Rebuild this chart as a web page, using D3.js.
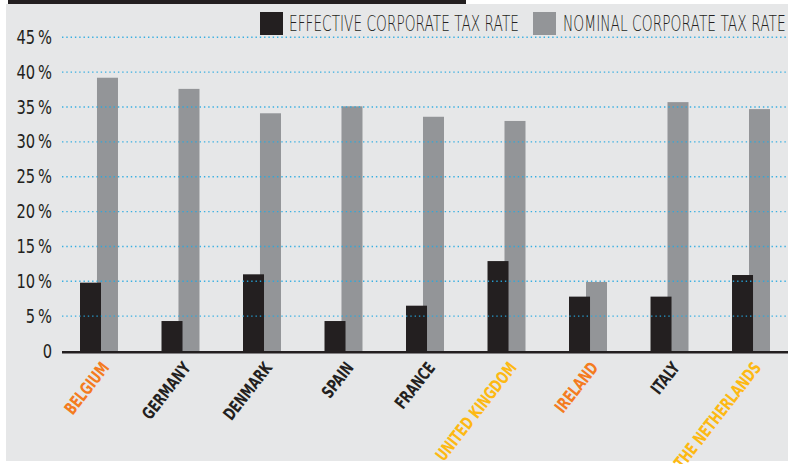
<!DOCTYPE html>
<html>
<head>
<meta charset="utf-8">
<script src="https://cdn.jsdelivr.net/npm/d3@7"></script>
<style>
  html, body { margin: 0; padding: 0; background: #ffffff; }
  svg { display: block; }
  .narrow { font-family: "DejaVu Sans Condensed", "DejaVu Sans", sans-serif; font-stretch: condensed; }
  .thin { font-family: "DejaVu Sans", sans-serif; font-weight: 200; }
</style>
</head>
<body>
<svg id="chart" width="788" height="464"></svg>
<script>
// Corporate tax rates by country (%)
const countries = ["BELGIUM", "GERMANY", "DENMARK", "SPAIN", "FRANCE", "UNITED KINGDOM", "IRELAND", "ITALY", "THE NETHERLANDS"];
const effectiveRate = [9.8, 4.3, 11.0, 4.3, 6.5, 12.9, 7.8, 7.8, 10.9];
const nominalRate = [39.2, 37.6, 34.1, 35.1, 33.6, 33.0, 9.9, 35.7, 34.7];
const yTicks = [0, 5, 10, 15, 20, 25, 30, 35, 40, 45];
const seriesNames = ["EFFECTIVE CORPORATE TAX RATE", "NOMINAL CORPORATE TAX RATE"];
const seriesColors = ["#231f20", "#939598"];
const labelColors = ["#f47b20", "#231f20", "#231f20", "#231f20", "#231f20", "#fdb913", "#f47b20", "#231f20", "#fdb913"];

const W = 788, H = 464;
const svg = d3.select("#chart");

// panel background and top rule
svg.append("rect").attr("x", 6).attr("y", 4).attr("width", W - 6).attr("height", 457).attr("fill", "#e6e7e8");
svg.append("rect").attr("x", 8).attr("y", 0).attr("width", 458).attr("height", 4).attr("fill", "#231f20");

const plotLeft = 62, plotRight = W;
const y = d3.scaleLinear().domain([0, 45]).range([351, 37.3]);

// one band per country, holding the two bars
const x = d3.scaleBand().domain(countries).range([80, 770]).paddingInner(0.534).paddingOuter(0);
// the nominal bar sits slightly behind and to the right of the effective bar
const barW = 21;
const sub = d3.scaleOrdinal().domain(["eff", "nom"]).range([0, x.bandwidth() - barW]);

// y-axis labels, slightly condensed
const fmt = d => d === 0 ? "0" : d + "\u2009%";
svg.append("g").selectAll("text").data(yTicks).join("text")
  .attr("class", "narrow")
  .attr("transform", d => `translate(52,${y(d) + 6.5}) scale(0.86,1)`)
  .attr("text-anchor", "end")
  .attr("font-size", 19)
  .attr("fill", "#231f20")
  .text(fmt);

const data = countries.map((c, i) => ({ c, eff: effectiveRate[i], nom: nominalRate[i] }));

// nominal bars first, effective bars drawn over them
svg.append("g").selectAll("rect").data(data).join("rect")
  .attr("x", d => x(d.c) + sub("nom"))
  .attr("y", d => y(d.nom))
  .attr("width", barW)
  .attr("height", d => y(0) - y(d.nom))
  .attr("fill", seriesColors[1]);

svg.append("g").selectAll("rect").data(data).join("rect")
  .attr("x", d => x(d.c) + sub("eff"))
  .attr("y", d => y(d.eff))
  .attr("width", barW)
  .attr("height", d => y(0) - y(d.eff))
  .attr("fill", seriesColors[0]);

// dotted gridlines on top of the bars
svg.append("g").selectAll("line").data(yTicks.filter(d => d > 0)).join("line")
  .attr("x1", plotLeft).attr("x2", plotRight)
  .attr("y1", d => y(d)).attr("y2", d => y(d))
  .attr("stroke", "#27aae1")
  .attr("stroke-width", 1.4)
  .attr("stroke-dasharray", "1.4,2.9")
  .attr("opacity", 0.9);

// baseline
svg.append("line")
  .attr("x1", plotLeft).attr("x2", plotRight)
  .attr("y1", y(0) + 1.2).attr("y2", y(0) + 1.2)
  .attr("stroke", "#231f20").attr("stroke-width", 2.6);

// rotated country labels, squeezed along the baseline
svg.append("g").selectAll("text").data(countries).join("text")
  .attr("class", "narrow")
  .attr("transform", d => `translate(${x(d) + x.bandwidth() / 2 + 11},${368}) rotate(-52) scale(0.78,1)`)
  .attr("text-anchor", "end")
  .attr("font-size", 17)
  .attr("font-weight", "bold")
  .attr("fill", (d, i) => labelColors[i])
  .text(d => d);

// legend
const legendItems = [
  { name: seriesNames[0], color: seriesColors[0], sx: 260, tx: 289, tw: 230 },
  { name: seriesNames[1], color: seriesColors[1], sx: 533, tx: 563, tw: 223 }
];
const lg = svg.append("g");
lg.selectAll("rect").data(legendItems).join("rect")
  .attr("x", d => d.sx).attr("y", 12).attr("width", 23).attr("height", 23)
  .attr("fill", d => d.color);
lg.selectAll("text").data(legendItems).join("text")
  .attr("class", "thin")
  .attr("font-size", 20.5)
  .attr("fill", "#231f20")
  .text(d => d.name)
  .attr("transform", function (d) {
    // compress each legend label horizontally to its target width
    const natural = this.getComputedTextLength();
    return `translate(${d.tx},31) scale(${d.tw / natural},1)`;
  });
</script>
</body>
</html>
